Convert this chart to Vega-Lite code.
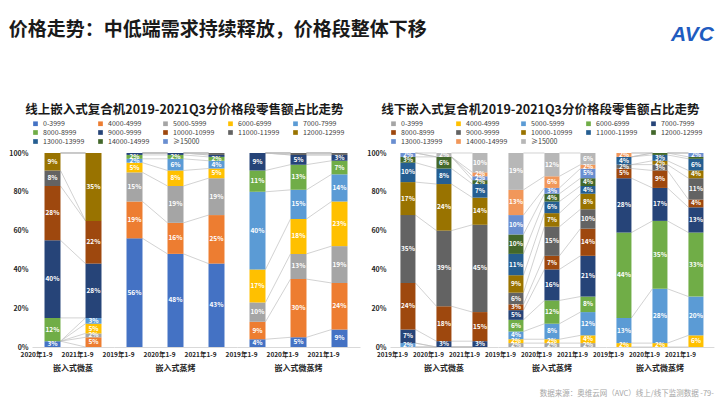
{
  "$schema": "https://vega.github.io/schema/vega-lite/v6.json",
  "background": "white",
  "padding": {"left": 8, "right": 6, "top": 20, "bottom": 0},
  "config": {"font": "Noto Sans CJK SC", "view": {"stroke": null}, "concat": {"spacing": 6}, "axis": {"labelOverlap": false}, "axisY": {"labelOverlap": false, "values": [0, 10, 20, 30, 40, 50, 60, 70, 80, 90, 100], "labelExpr": "datum.value + '%'", "grid": false, "domain": false, "ticks": false, "labelFontSize": 7, "labelFontWeight": "bold", "labelColor": "#262626", "labelPadding": 4}},
  "datasets": {
    "online": [
      {"g": "嵌入式微蒸", "p": "2020年1-9", "0-3999": 3, "4000-4999": 0, "5000-5999": 0, "6000-6999": 0, "7000-7999": 0, "8000-8999": 12, "9000-9999": 40, "10000-10999": 28, "11000-11999": 8, "12000-12999": 9, "13000-13999": 0, "14000-14999": 0, "≥15000": 0},
      {"g": "嵌入式微蒸", "p": "2021年1-9", "0-3999": 0, "4000-4999": 5, "5000-5999": 2, "6000-6999": 5, "7000-7999": 3, "8000-8999": 0, "9000-9999": 28, "10000-10999": 22, "11000-11999": 0, "12000-12999": 35, "13000-13999": 0, "14000-14999": 0, "≥15000": 0},
      {"g": "嵌入式蒸烤", "p": "2019年1-9", "0-3999": 56, "4000-4999": 19, "5000-5999": 15, "6000-6999": 5, "7000-7999": 2, "8000-8999": 2, "9000-9999": 1, "10000-10999": 0, "11000-11999": 0, "12000-12999": 0, "13000-13999": 0, "14000-14999": 0, "≥15000": 0},
      {"g": "嵌入式蒸烤", "p": "2020年1-9", "0-3999": 48, "4000-4999": 16, "5000-5999": 19, "6000-6999": 8, "7000-7999": 6, "8000-8999": 2, "9000-9999": 1, "10000-10999": 0, "11000-11999": 0, "12000-12999": 0, "13000-13999": 0, "14000-14999": 0, "≥15000": 0},
      {"g": "嵌入式蒸烤", "p": "2021年1-9", "0-3999": 43, "4000-4999": 25, "5000-5999": 19, "6000-6999": 5, "7000-7999": 4, "8000-8999": 2, "9000-9999": 1, "10000-10999": 0, "11000-11999": 1, "12000-12999": 0, "13000-13999": 0, "14000-14999": 0, "≥15000": 0},
      {"g": "嵌入式微蒸烤", "p": "2019年1-9", "0-3999": 4, "4000-4999": 9, "5000-5999": 10, "6000-6999": 17, "7000-7999": 40, "8000-8999": 11, "9000-9999": 9, "10000-10999": 0, "11000-11999": 0, "12000-12999": 0, "13000-13999": 0, "14000-14999": 0, "≥15000": 0},
      {"g": "嵌入式微蒸烤", "p": "2020年1-9", "0-3999": 5, "4000-4999": 30, "5000-5999": 13, "6000-6999": 18, "7000-7999": 15, "8000-8999": 13, "9000-9999": 5, "10000-10999": 0, "11000-11999": 1, "12000-12999": 0, "13000-13999": 0, "14000-14999": 0, "≥15000": 0},
      {"g": "嵌入式微蒸烤", "p": "2021年1-9", "0-3999": 9, "4000-4999": 24, "5000-5999": 19, "6000-6999": 23, "7000-7999": 14, "8000-8999": 7, "9000-9999": 3, "10000-10999": 0, "11000-11999": 1, "12000-12999": 0, "13000-13999": 0, "14000-14999": 0, "≥15000": 0}
    ],
    "offline": [
      {"g": "嵌入式微蒸", "p": "2019年1-9", "0-3999": 0, "4000-4999": 0, "5000-5999": 2, "6000-6999": 0, "7000-7999": 7, "8000-8999": 24, "9000-9999": 35, "10000-10999": 17, "11000-11999": 10, "12000-12999": 3, "13000-13999": 2, "14000-14999": 0, "≥15000": 0},
      {"g": "嵌入式微蒸", "p": "2020年1-9", "0-3999": 0, "4000-4999": 0, "5000-5999": 0, "6000-6999": 0, "7000-7999": 3, "8000-8999": 18, "9000-9999": 39, "10000-10999": 24, "11000-11999": 8, "12000-12999": 6, "13000-13999": 0, "14000-14999": 0, "≥15000": 2},
      {"g": "嵌入式微蒸", "p": "2021年1-9", "0-3999": 0, "4000-4999": 0, "5000-5999": 0, "6000-6999": 0, "7000-7999": 3, "8000-8999": 15, "9000-9999": 45, "10000-10999": 14, "11000-11999": 7, "12000-12999": 2, "13000-13999": 2, "14000-14999": 2, "≥15000": 10},
      {"g": "嵌入式蒸烤", "p": "2019年1-9", "0-3999": 2, "4000-4999": 2, "5000-5999": 4, "6000-6999": 6, "7000-7999": 5, "8000-8999": 3, "9000-9999": 6, "10000-10999": 9, "11000-11999": 11, "12000-12999": 10, "13000-13999": 10, "14000-14999": 13, "≥15000": 19},
      {"g": "嵌入式蒸烤", "p": "2020年1-9", "0-3999": 2, "4000-4999": 2, "5000-5999": 8, "6000-6999": 12, "7000-7999": 16, "8000-8999": 7, "9000-9999": 15, "10000-10999": 7, "11000-11999": 6, "12000-12999": 4, "13000-13999": 3, "14000-14999": 6, "≥15000": 12},
      {"g": "嵌入式蒸烤", "p": "2021年1-9", "0-3999": 2, "4000-4999": 4, "5000-5999": 12, "6000-6999": 8, "7000-7999": 21, "8000-8999": 14, "9000-9999": 10, "10000-10999": 8, "11000-11999": 4, "12000-12999": 4, "13000-13999": 5, "14000-14999": 2, "≥15000": 6},
      {"g": "嵌入式微蒸烤", "p": "2019年1-9", "0-3999": 0, "4000-4999": 2, "5000-5999": 13, "6000-6999": 44, "7000-7999": 28, "8000-8999": 5, "9000-9999": 2, "10000-10999": 0, "11000-11999": 4, "12000-12999": 0, "13000-13999": 0, "14000-14999": 2, "≥15000": 0},
      {"g": "嵌入式微蒸烤", "p": "2020年1-9", "0-3999": 0, "4000-4999": 2, "5000-5999": 28, "6000-6999": 35, "7000-7999": 17, "8000-8999": 9, "9000-9999": 3, "10000-10999": 2, "11000-11999": 3, "12000-12999": 1, "13000-13999": 0, "14000-14999": 0, "≥15000": 0},
      {"g": "嵌入式微蒸烤", "p": "2021年1-9", "0-3999": 0, "4000-4999": 6, "5000-5999": 20, "6000-6999": 33, "7000-7999": 13, "8000-8999": 4, "9000-9999": 11, "10000-10999": 4, "11000-11999": 6, "12000-12999": 1, "13000-13999": 2, "14000-14999": 0, "≥15000": 0}
    ]
  },
  "title": {"text": "AVC", "anchor": "end", "fontSize": 21, "fontWeight": "bold", "fontStyle": "italic", "color": "#1F5CC0", "font": "Liberation Sans", "offset": -24},
  "vconcat": [
    {
      "title": {"text": "价格走势：中低端需求持续释放，价格段整体下移", "anchor": "start", "fontSize": 19, "fontWeight": "bold", "color": "#1a1a1a", "offset": 64},
      "vconcat": [
        {
          "title": {"text": "数据来源：奥维云网（AVC）线上/线下监测数据 -79-", "orient": "bottom", "anchor": "end", "fontSize": 7.5, "fontWeight": "normal", "color": "#A6A6A6", "offset": 17},
          "resolve": {"scale": {"color": "independent", "y": "independent"}},
          "hconcat": [
            {
              "data": {"name": "online"},
              "transform": [
                {"fold": ["0-3999", "4000-4999", "5000-5999", "6000-6999", "7000-7999", "8000-8999", "9000-9999", "10000-10999", "11000-11999", "12000-12999", "13000-13999", "14000-14999", "≥15000"], "as": ["seg", "v"]},
                {"calculate": "indexof(['0-3999','4000-4999','5000-5999','6000-6999','7000-7999','8000-8999','9000-9999','10000-10999','11000-11999','12000-12999','13000-13999','14000-14999','≥15000'], datum.seg)", "as": "o"},
                {"window": [{"op": "sum", "field": "v", "as": "cum"}], "groupby": ["g", "p"], "sort": [{"field": "o"}], "frame": [null, 0]},
                {"calculate": "datum.cum - datum.v", "as": "lo"},
                {"calculate": "datum.cum - datum.v / 2", "as": "mid"},
                {"calculate": "datum.v + '%'", "as": "lbl"},
                {"window": [{"op": "lead", "field": "cum", "as": "ncum"}, {"op": "lead", "field": "p", "as": "np"}], "groupby": ["g", "seg"], "sort": [{"field": "p"}]}
              ],
              "title": {"text": "线上嵌入式复合机2019-2021Q3分价格段零售额占比走势", "fontSize": 12.5, "fontWeight": "bold", "anchor": "middle", "color": "#1a1a1a", "offset": 4},
              "facet": {"column": {"field": "g", "type": "nominal", "sort": ["嵌入式微蒸", "嵌入式蒸烤", "嵌入式微蒸烤"], "title": null, "header": {"labelOrient": "bottom", "labelFontSize": 8, "labelFontWeight": "bold", "labelPadding": 18, "labelColor": "#262626"}}},
              "spacing": 0,
              "bounds": "flush",
              "resolve": {"scale": {"x": "independent"}},
              "spec": {
                "width": {"step": 41},
                "height": 194,
                "layer": [
                  {
                    "transform": [{"filter": "datum.np != null"}],
                    "mark": {"type": "rule", "color": "#BFBFBF", "strokeWidth": 0.7},
                    "encoding": {
                      "x": {"field": "p", "type": "nominal", "bandPosition": 1, "title": null, "scale": {"paddingInner": 0.61, "paddingOuter": 0.305}},
                      "x2": {"field": "np", "bandPosition": 0},
                      "y": {"field": "cum", "type": "quantitative", "title": null, "scale": {"domain": [0, 100], "nice": false}},
                      "y2": {"field": "ncum"}
                    }
                  },
                  {
                    "mark": {"type": "bar"},
                    "encoding": {
                      "x": {"field": "p", "type": "nominal", "title": null, "scale": {"paddingInner": 0.61, "paddingOuter": 0.305}, "axis": {"labelAngle": 0, "labelFontSize": 6.5, "labelFontWeight": "bold", "labelColor": "#262626", "ticks": false, "domainColor": "#D9D9D9", "labelPadding": 7}},
                      "y": {"field": "lo", "type": "quantitative", "title": null, "scale": {"domain": [0, 100], "nice": false}},
                      "y2": {"field": "cum"},
                      "color": {"field": "seg", "type": "nominal", "scale": {"domain": ["0-3999", "4000-4999", "5000-5999", "6000-6999", "7000-7999", "8000-8999", "9000-9999", "10000-10999", "11000-11999", "12000-12999", "13000-13999", "14000-14999", "≥15000"], "range": ["#4472C4", "#ED7D31", "#A5A5A5", "#FFC000", "#5B9BD5", "#70AD47", "#264478", "#9E480E", "#636363", "#997300", "#255E91", "#43682B", "#698ED0"]}, "legend": {"orient": "top", "title": null, "columns": 5, "direction": "horizontal", "symbolType": "square", "symbolSize": 22, "labelFontSize": 7, "labelColor": "#404040", "rowPadding": 1, "columnPadding": 12, "offset": 4, "padding": 0}}
                    }
                  },
                  {
                    "transform": [{"filter": "datum.v >= 2"}],
                    "mark": {"type": "text", "color": "white", "fontSize": 6.5, "fontWeight": "bold", "baseline": "middle"},
                    "encoding": {
                      "x": {"field": "p", "type": "nominal", "title": null, "scale": {"paddingInner": 0.61, "paddingOuter": 0.305}},
                      "y": {"field": "mid", "type": "quantitative", "title": null, "scale": {"domain": [0, 100], "nice": false}},
                      "text": {"field": "lbl"}
                    }
                  }
                ]
              }
            },
            {
              "data": {"name": "offline"},
              "transform": [
                {"fold": ["0-3999", "4000-4999", "5000-5999", "6000-6999", "7000-7999", "8000-8999", "9000-9999", "10000-10999", "11000-11999", "12000-12999", "13000-13999", "14000-14999", "≥15000"], "as": ["seg", "v"]},
                {"calculate": "indexof(['0-3999','4000-4999','5000-5999','6000-6999','7000-7999','8000-8999','9000-9999','10000-10999','11000-11999','12000-12999','13000-13999','14000-14999','≥15000'], datum.seg)", "as": "o"},
                {"window": [{"op": "sum", "field": "v", "as": "cum"}], "groupby": ["g", "p"], "sort": [{"field": "o"}], "frame": [null, 0]},
                {"calculate": "datum.cum - datum.v", "as": "lo"},
                {"calculate": "datum.cum - datum.v / 2", "as": "mid"},
                {"calculate": "datum.v + '%'", "as": "lbl"},
                {"window": [{"op": "lead", "field": "cum", "as": "ncum"}, {"op": "lead", "field": "p", "as": "np"}], "groupby": ["g", "seg"], "sort": [{"field": "p"}]}
              ],
              "title": {"text": "线下嵌入式复合机2019-2021Q3分价格段零售额占比走势", "fontSize": 12.5, "fontWeight": "bold", "anchor": "middle", "color": "#1a1a1a", "offset": 4},
              "facet": {"column": {"field": "g", "type": "nominal", "sort": ["嵌入式微蒸", "嵌入式蒸烤", "嵌入式微蒸烤"], "title": null, "header": {"labelOrient": "bottom", "labelFontSize": 8, "labelFontWeight": "bold", "labelPadding": 18, "labelColor": "#262626"}}},
              "spacing": 0,
              "bounds": "flush",
              "resolve": {"scale": {"x": "independent"}},
              "spec": {
                "width": {"step": 36},
                "height": 194,
                "layer": [
                  {
                    "transform": [{"filter": "datum.np != null"}],
                    "mark": {"type": "rule", "color": "#BFBFBF", "strokeWidth": 0.7},
                    "encoding": {
                      "x": {"field": "p", "type": "nominal", "bandPosition": 1, "title": null, "scale": {"paddingInner": 0.583, "paddingOuter": 0.29}},
                      "x2": {"field": "np", "bandPosition": 0},
                      "y": {"field": "cum", "type": "quantitative", "title": null, "scale": {"domain": [0, 100], "nice": false}},
                      "y2": {"field": "ncum"}
                    }
                  },
                  {
                    "mark": {"type": "bar"},
                    "encoding": {
                      "x": {"field": "p", "type": "nominal", "title": null, "scale": {"paddingInner": 0.583, "paddingOuter": 0.29}, "axis": {"labelAngle": 0, "labelFontSize": 6.3, "labelFontWeight": "bold", "labelColor": "#262626", "ticks": false, "domainColor": "#D9D9D9", "labelPadding": 7}},
                      "y": {"field": "lo", "type": "quantitative", "title": null, "scale": {"domain": [0, 100], "nice": false}},
                      "y2": {"field": "cum"},
                      "color": {"field": "seg", "type": "nominal", "scale": {"domain": ["0-3999", "4000-4999", "5000-5999", "6000-6999", "7000-7999", "8000-8999", "9000-9999", "10000-10999", "11000-11999", "12000-12999", "13000-13999", "14000-14999", "≥15000"], "range": ["#A5A5A5", "#FFC000", "#5B9BD5", "#70AD47", "#264478", "#9E480E", "#636363", "#997300", "#255E91", "#43682B", "#698ED0", "#F1975A", "#B7B7B7"]}, "legend": {"orient": "top", "title": null, "columns": 5, "direction": "horizontal", "symbolType": "square", "symbolSize": 22, "labelFontSize": 7, "labelColor": "#404040", "rowPadding": 1, "columnPadding": 12, "offset": 4, "padding": 0}}
                    }
                  },
                  {
                    "transform": [{"filter": "datum.v >= 2"}],
                    "mark": {"type": "text", "color": "white", "fontSize": 6.5, "fontWeight": "bold", "baseline": "middle"},
                    "encoding": {
                      "x": {"field": "p", "type": "nominal", "title": null, "scale": {"paddingInner": 0.583, "paddingOuter": 0.29}},
                      "y": {"field": "mid", "type": "quantitative", "title": null, "scale": {"domain": [0, 100], "nice": false}},
                      "text": {"field": "lbl"}
                    }
                  }
                ]
              }
            }
          ]
        }
      ]
    }
  ]
}
